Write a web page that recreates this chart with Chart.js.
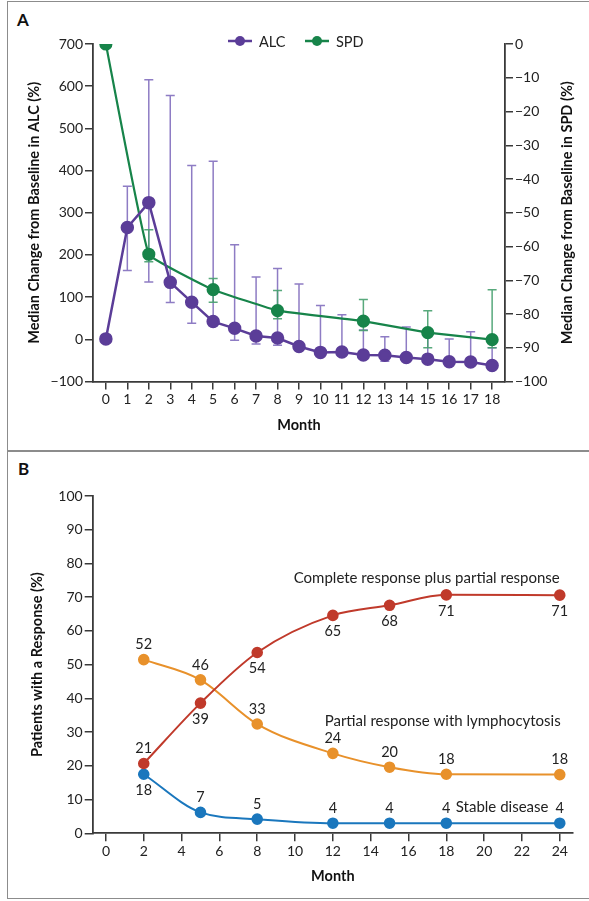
<!DOCTYPE html>
<html>
<head>
<meta charset="utf-8">
<script src="https://cdn.jsdelivr.net/npm/chart.js"></script>
<style>
  html, body { margin: 0; padding: 0; background: #fff; }
  body { width: 589px; height: 901px; position: relative; overflow: hidden; font-family: Lato, sans-serif; }
  .box { position: absolute; border: 1.5px solid #8c8c8c; box-sizing: border-box; }
  .letter { position: absolute; font: bold 17px Lato, sans-serif; color: #111; }
  canvas { position: absolute; left: 0; }
</style>
</head>
<body>
<div class="box" style="left:7px; top:1px; width:590px; height:451px;"></div>
<div class="box" style="left:7px; top:450px; width:590px; height:449px;"></div>
<div class="letter" style="left:17px; top:9px;">A</div>
<div class="letter" style="left:18px; top:458px;">B</div>
<canvas id="graficoA" width="589" height="451" style="top:0;"></canvas>
<canvas id="graficoB" width="589" height="450" style="top:451px;"></canvas>
<script>
// ---- Panel A: ALC y SPD ----
const mesesA = [0, 1, 2, 3, 4, 5, 6, 7, 8, 9, 10, 11, 12, 13, 14, 15, 16, 17, 18];
const alc = [1, 265, 324, 135, 88, 42, 26, 8, 3, -17, -31, -30, -37, -38, -43, -47, -53, -54, -62];
const alcAlto = [null, 363, 615, 578, 412, 422, 224, 148, 168, 131, 80, 58, 22, 6, 29, 10, 1, 18, -20];
const alcBajo = [null, 163, 136, 87, 38, 32, -2, -11, -14, -22, -36, -35, -42, -52, -48, -52, -58, -58, -66];

const mesesSPD = [0, 2, 5, 8, 12, 15, 18];
const spd = [0, -62.3, -72.8, -79, -82.1, -85.5, -87.6];
const spdAlto = [null, -55, -69.5, -73, -75.7, -79, -72.8];
const spdBajo = [null, -64.5, -76.5, -81.4, -84.9, -90, -90];

const ticksMesA = mesesA;
const ticksALC = [-100, 0, 100, 200, 300, 400, 500, 600, 700];
const ticksSPD = [-100, -90, -80, -70, -60, -50, -40, -30, -20, -10, 0];

// ---- Panel B: respuesta ----
const mesesB = [2, 5, 8, 12, 15, 18, 24];
const respCompleta = [20.7, 38.6, 53.6, 64.6, 67.6, 70.7, 70.6];
const respCompletaTxt = ['21', '39', '54', '65', '68', '71', '71'];
const respLinfo = [51.5, 45.5, 32.4, 23.7, 19.6, 17.5, 17.4];
const respLinfoTxt = ['52', '46', '33', '24', '20', '18', '18'];
const estable = [17.5, 6.2, 4.2, 3.0, 3.0, 3.0, 3.0];
const estableTxt = ['18', '7', '5', '4', '4', '4', '4'];
const ticksMesB = [0, 2, 4, 6, 8, 10, 12, 14, 16, 18, 20, 22, 24];
const ticksPct = [0, 10, 20, 30, 40, 50, 60, 70, 80, 90, 100];

const FUENTE = 'Lato, sans-serif';
const TXT = '#222';
const EJE = '#3a3a3a';

function menos(v) { return String(v).replace('-', '\u2212'); }
function puntos(xs, ys) { return xs.map((x, i) => ({ x: x, y: ys[i] })); }

// barras de error dibujadas con las escalas del grafico
const barrasError = {
  id: 'barrasError',
  beforeDatasetsDraw(chart) {
    const ctx = chart.ctx;
    chart.data.datasets.forEach((ds) => {
      if (!ds.barras) return;
      const sx = chart.scales.x, sy = chart.scales[ds.yAxisID];
      ctx.save();
      ctx.strokeStyle = ds.barras.color;
      ctx.lineWidth = 1.5;
      ds.data.forEach((p, j) => {
        const lo = ds.barras.bajo[j], hi = ds.barras.alto[j];
        if (lo == null || hi == null) return;
        const x = sx.getPixelForValue(p.x);
        const y1 = sy.getPixelForValue(lo), y2 = sy.getPixelForValue(hi);
        ctx.beginPath();
        ctx.moveTo(x, y1); ctx.lineTo(x, y2);
        ctx.moveTo(x - 4.5, y1); ctx.lineTo(x + 4.5, y1);
        ctx.moveTo(x - 4.5, y2); ctx.lineTo(x + 4.5, y2);
        ctx.stroke();
      });
      ctx.restore();
    });
  }
};

// leyenda propia (linea con punto) y titulo del eje derecho leido de abajo hacia arriba
const leyendaA = {
  id: 'leyendaA',
  afterDraw(chart) {
    const ctx = chart.ctx;
    const y = 41;
    const items = [
      { txt: 'ALC', color: '#5b3d98', x: 228 },
      { txt: 'SPD', color: '#17844a', x: 305 }
    ];
    ctx.save();
    items.forEach((it) => {
      ctx.strokeStyle = it.color;
      ctx.fillStyle = it.color;
      ctx.lineWidth = 2.5;
      ctx.beginPath(); ctx.moveTo(it.x, y); ctx.lineTo(it.x + 24, y); ctx.stroke();
      ctx.beginPath(); ctx.arc(it.x + 12, y, 5, 0, Math.PI * 2); ctx.fill();
      ctx.fillStyle = TXT;
      ctx.font = '14.5px ' + FUENTE;
      ctx.textBaseline = 'middle';
      ctx.fillText(it.txt, it.x + 31, y + 1);
    });
    const a = chart.chartArea;
    ctx.translate(567, (a.top + a.bottom) / 2);
    ctx.rotate(-Math.PI / 2);
    ctx.fillStyle = '#111';
    ctx.font = 'bold 14.5px ' + FUENTE;
    ctx.textAlign = 'center';
    ctx.fillText('Median Change from Baseline in SPD (%)', 0, 0);
    ctx.restore();
  }
};

// etiquetas de valores y textos de las series en el panel B
const etiquetasB = {
  id: 'etiquetasB',
  afterDatasetsDraw(chart) {
    const ctx = chart.ctx;
    const sx = chart.scales.x, sy = chart.scales.y;
    ctx.save();
    ctx.fillStyle = TXT;
    ctx.font = '14.5px ' + FUENTE;
    ctx.textAlign = 'center';
    ctx.textBaseline = 'middle';
    chart.data.datasets.forEach((ds) => {
      ds.data.forEach((p, j) => {
        const x = sx.getPixelForValue(p.x), y = sy.getPixelForValue(p.y);
        const dy = ds.lado[j] === 'arriba' ? -15 : 16;
        ctx.fillText(ds.textos[j], x, y + dy);
      });
    });
    ctx.textAlign = 'right';
    ctx.font = '15px ' + FUENTE;
    [
      { t: 'Complete response plus partial response', x: 24.0, y: 75.5 },
      { t: 'Partial response with lymphocytosis', x: 24.05, y: 33.1 },
      { t: 'Stable disease', x: 23.4, y: 7.8 }
    ].forEach((a) => {
      ctx.fillText(a.t, sx.getPixelForValue(a.x), sy.getPixelForValue(a.y));
    });
    ctx.restore();
  }
};

function ejeBase(ticks) {
  return {
    type: 'linear',
    afterBuildTicks: (s) => { s.ticks = ticks.map((v) => ({ value: v })); },
    border: { display: true, color: EJE, width: 1.8 },
    grid: { display: true, drawOnChartArea: false, drawTicks: true, tickLength: 8, color: EJE, lineWidth: 1.5 },
    ticks: { color: TXT, font: { family: FUENTE, size: 14 }, padding: 2, callback: (v) => menos(v), autoSkip: false, maxRotation: 0 }
  };
}
function titulo(txt, pad) {
  return { display: true, text: txt, color: '#111', font: { family: FUENTE, size: 14.5, weight: 'bold' }, padding: pad };
}

Chart.defaults.font.family = FUENTE;

// ---- grafico A ----
const ejeXA = ejeBase(ticksMesA);
ejeXA.min = -0.6; ejeXA.max = 18.6;
ejeXA.afterFit = (s) => { s.height = 59.5; };
ejeXA.title = titulo('Month', { top: 0, bottom: 7 });

const ejeALC = ejeBase(ticksALC);
ejeALC.position = 'left';
ejeALC.min = -100; ejeALC.max = 700;
ejeALC.afterFit = (s) => { s.width = 83; };
ejeALC.title = titulo('Median Change from Baseline in ALC (%)', { top: 16, bottom: 0 });

const ejeSPD = ejeBase(ticksSPD);
ejeSPD.position = 'right';
ejeSPD.min = -100; ejeSPD.max = 0;
ejeSPD.afterFit = (s) => { s.width = 74; };

new Chart(document.getElementById('graficoA').getContext('2d'), {
  type: 'line',
  data: {
    datasets: [{
      label: 'ALC',
      data: puntos(mesesA, alc),
      yAxisID: 'yALC',
      borderColor: '#5b3d98',
      backgroundColor: '#5b3d98',
      borderWidth: 2.5,
      pointRadius: 5.5,
      tension: 0,
      barras: { alto: alcAlto, bajo: alcBajo, color: 'rgba(130, 110, 190, 0.9)' }
    }, {
      label: 'SPD',
      data: puntos(mesesSPD, spd),
      yAxisID: 'ySPD',
      borderColor: '#17844a',
      backgroundColor: '#17844a',
      borderWidth: 2.2,
      pointRadius: 5.5,
      tension: 0.08,
      barras: { alto: spdAlto, bajo: spdBajo, color: 'rgba(70, 160, 110, 0.9)' }
    }]
  },
  options: {
    responsive: false,
    animation: false,
    layout: { padding: { left: 10, right: 10, top: 44, bottom: 10 } },
    plugins: { legend: { display: false }, tooltip: { enabled: false } },
    scales: { x: ejeXA, yALC: ejeALC, ySPD: ejeSPD }
  },
  plugins: [barrasError, leyendaA]
});

// ---- grafico B ----
const ejeXB = ejeBase(ticksMesB);
ejeXB.min = -0.7; ejeXB.max = 24.7;
ejeXB.afterFit = (s) => { s.height = 57.7; };
ejeXB.title = titulo('Month', { top: 0, bottom: 5.5 });

const ejePct = ejeBase(ticksPct);
ejePct.position = 'left';
ejePct.min = 0; ejePct.max = 100;
ejePct.afterFit = (s) => { s.width = 82.7; };
ejePct.title = titulo('Patients with a Response (%)', { top: 19, bottom: 0 });

function serieB(nombre, ys, textos, lado, color) {
  return {
    label: nombre,
    data: puntos(mesesB, ys),
    borderColor: color,
    backgroundColor: color,
    borderWidth: 2,
    pointRadius: 4.8,
    cubicInterpolationMode: 'monotone',
    textos: textos,
    lado: lado
  };
}

new Chart(document.getElementById('graficoB').getContext('2d'), {
  type: 'line',
  data: {
    datasets: [
      serieB('Complete response plus partial response', respCompleta, respCompletaTxt,
        ['arriba', 'abajo', 'abajo', 'abajo', 'abajo', 'abajo', 'abajo'], '#c03a2b'),
      serieB('Partial response with lymphocytosis', respLinfo, respLinfoTxt,
        ['arriba', 'arriba', 'arriba', 'arriba', 'arriba', 'arriba', 'arriba'], '#e8912b'),
      serieB('Stable disease', estable, estableTxt,
        ['abajo', 'arriba', 'arriba', 'arriba', 'arriba', 'arriba', 'arriba'], '#1a77bd')
    ]
  },
  options: {
    responsive: false,
    animation: false,
    layout: { padding: { left: 10, right: 16, top: 45, bottom: 10 } },
    plugins: { legend: { display: false }, tooltip: { enabled: false } },
    scales: { x: ejeXB, y: ejePct }
  },
  plugins: [etiquetasB]
});
</script>
</body>
</html>
